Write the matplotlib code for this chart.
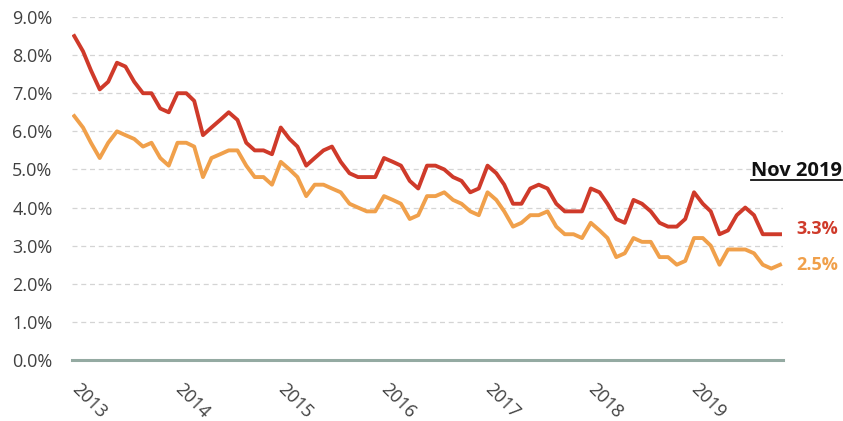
import pandas as pd
import matplotlib
matplotlib.use("Agg")
import matplotlib.pyplot as plt
from matplotlib.lines import Line2D

plt.rcParams['font.family'] = ['Open Sans', 'DejaVu Sans']

# Monthly values, Jan 2013 .. Nov 2019 (percent)
months = pd.date_range("2013-01-01", periods=83, freq="MS")

red_vals = [
    8.5, 8.1, 7.6, 7.1, 7.3, 7.8, 7.7, 7.3, 7.0, 7.0, 6.6, 6.5,   # 2013
    7.0, 7.0, 6.8, 5.9, 6.1, 6.3, 6.5, 6.3, 5.7, 5.5, 5.5, 5.4,   # 2014
    6.1, 5.8, 5.6, 5.1, 5.3, 5.5, 5.6, 5.2, 4.9, 4.8, 4.8, 4.8,   # 2015
    5.3, 5.2, 5.1, 4.7, 4.5, 5.1, 5.1, 5.0, 4.8, 4.7, 4.4, 4.5,   # 2016
    5.1, 4.9, 4.6, 4.1, 4.1, 4.5, 4.6, 4.5, 4.1, 3.9, 3.9, 3.9,   # 2017
    4.5, 4.4, 4.1, 3.7, 3.6, 4.2, 4.1, 3.9, 3.6, 3.5, 3.5, 3.7,   # 2018
    4.4, 4.1, 3.9, 3.3, 3.4, 3.8, 4.0, 3.8, 3.3, 3.3, 3.3,        # 2019
]
orange_vals = [
    6.4, 6.1, 5.7, 5.3, 5.7, 6.0, 5.9, 5.8, 5.6, 5.7, 5.3, 5.1,   # 2013
    5.7, 5.7, 5.6, 4.8, 5.3, 5.4, 5.5, 5.5, 5.1, 4.8, 4.8, 4.6,   # 2014
    5.2, 5.0, 4.8, 4.3, 4.6, 4.6, 4.5, 4.4, 4.1, 4.0, 3.9, 3.9,   # 2015
    4.3, 4.2, 4.1, 3.7, 3.8, 4.3, 4.3, 4.4, 4.2, 4.1, 3.9, 3.8,   # 2016
    4.4, 4.2, 3.9, 3.5, 3.6, 3.8, 3.8, 3.9, 3.5, 3.3, 3.3, 3.2,   # 2017
    3.6, 3.4, 3.2, 2.7, 2.8, 3.2, 3.1, 3.1, 2.7, 2.7, 2.5, 2.6,   # 2018
    3.2, 3.2, 3.0, 2.5, 2.9, 2.9, 2.9, 2.8, 2.5, 2.4, 2.5,        # 2019
]

year_ticks = pd.date_range("2013-01-01", "2019-01-01", freq="YS")
year_labels = [str(d.year) for d in year_ticks]
y_ticks = [0, 1, 2, 3, 4, 5, 6, 7, 8, 9]

RED = "#cf3a2a"
ORANGE = "#f0a04b"
TEXT = "#404040"

fig = plt.figure(figsize=(8.43, 4.21), dpi=100)
ax = fig.add_axes([0.0854, 0.1449, 0.929 - 0.0854, 0.9596 - 0.1449])

for y in y_ticks[1:]:
    ax.axhline(y, color="#d4d4d4", lw=0.9, ls=(0, (4, 3)), zorder=1)
ax.axhline(0, color="#94aaa2", lw=2.2, zorder=2, clip_on=False)

ax.plot(months, red_vals, color=RED, lw=2.8, zorder=4, solid_joinstyle="round")
ax.plot(months, orange_vals, color=ORANGE, lw=2.8, zorder=3, solid_joinstyle="round")

ax.set_ylim(0, 9)
ax.set_xlim(pd.Timestamp("2012-12-24"), pd.Timestamp("2019-11-12"))
ax.set_yticks(y_ticks)
ax.set_yticklabels([f"{v:.1f}%" for v in y_ticks])
ax.set_xticks(year_ticks)
ax.set_xticklabels(year_labels, rotation=-45, ha="left", va="center",
                   rotation_mode="anchor")
ax.tick_params(axis="both", length=0, labelsize=13, colors=TEXT)
ax.tick_params(axis="y", pad=14)
ax.tick_params(axis="x", pad=19)
for s in ax.spines.values():
    s.set_visible(False)

ax.annotate(f"{red_vals[-1]:.1f}%", xy=(months[-1], red_vals[-1]),
            xytext=(12, 4), textcoords="offset points", va="center", ha="left",
            color=RED, fontsize=13, fontweight="bold", annotation_clip=False)
ax.annotate(f"{orange_vals[-1]:.1f}%", xy=(months[-1], orange_vals[-1]),
            xytext=(12, 0), textcoords="offset points", va="center", ha="left",
            color=ORANGE, fontsize=13, fontweight="bold", annotation_clip=False)

title = fig.text(0.9988, 1 - 171 / 421, "Nov 2019", ha="right", va="center",
                 fontsize=14.5, fontweight="bold", color="#111111")

# underline the date label
fig.canvas.draw()
bb = title.get_window_extent().transformed(fig.transFigure.inverted())
fig.add_artist(Line2D([bb.x0, bb.x1], [bb.y0 + 0.002, bb.y0 + 0.002],
                      transform=fig.transFigure, color="#111111", lw=1.3))

fig.savefig("out.png", dpi=100)
